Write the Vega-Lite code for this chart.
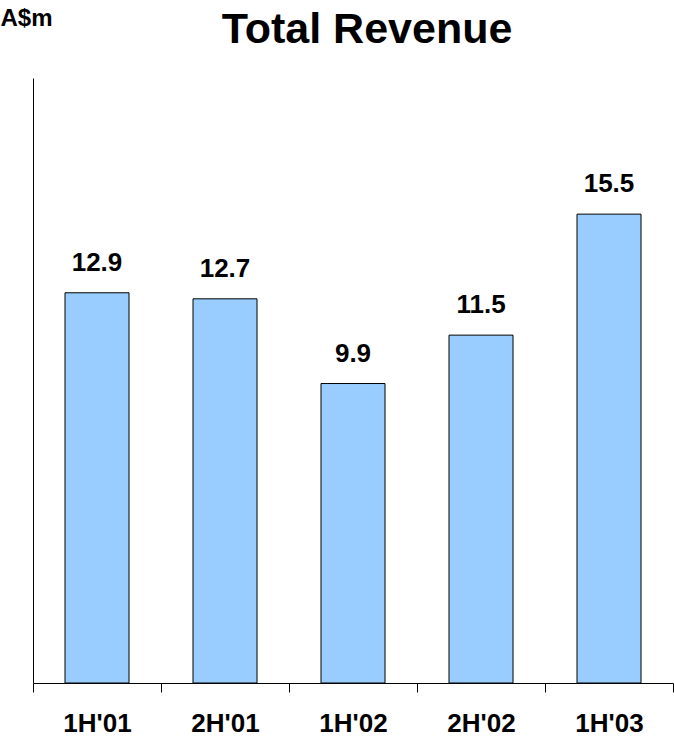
{
  "$schema": "https://vega.github.io/schema/vega-lite/v6.json",
  "width": 640,
  "height": 605,
  "autosize": {"type": "none"},
  "padding": {"left": 33, "top": 78, "right": 1, "bottom": 58},
  "background": "white",
  "title": {
    "text": "Total Revenue",
    "font": "Liberation Sans",
    "fontSize": 43,
    "fontWeight": "bold",
    "color": "black",
    "anchor": "middle",
    "dx": 14,
    "offset": -46
  },
  "config": {
    "view": {"stroke": null},
    "font": "Liberation Sans"
  },
  "data": {
    "values": [
      {"period": "1H'01", "revenue": 12.9},
      {"period": "2H'01", "revenue": 12.7},
      {"period": "1H'02", "revenue": 9.9},
      {"period": "2H'02", "revenue": 11.5},
      {"period": "1H'03", "revenue": 15.5}
    ]
  },
  "encoding": {
    "x": {
      "field": "period",
      "type": "nominal",
      "sort": null,
      "scale": {"paddingInner": 0, "paddingOuter": 0},
      "axis": {
        "title": null,
        "labelAngle": 0,
        "labelFont": "Liberation Sans",
        "labelFontSize": 26,
        "labelFontWeight": "bold",
        "labelColor": "black",
        "labelPadding": 18,
        "tickBand": "extent",
        "tickSize": 9,
        "tickColor": "black",
        "domainColor": "black",
        "domainWidth": 1,
        "grid": false
      }
    },
    "y": {
      "field": "revenue",
      "type": "quantitative",
      "scale": {"domain": [0, 20], "nice": false},
      "axis": {
        "title": "A$m",
        "titleAngle": 0,
        "titleX": -33,
        "titleY": -72,
        "titleAlign": "left",
        "titleBaseline": "top",
        "titleFont": "Liberation Sans",
        "titleFontSize": 24,
        "titleFontWeight": "bold",
        "titleColor": "black",
        "labels": false,
        "ticks": false,
        "grid": false,
        "domainColor": "black",
        "domainWidth": 1
      }
    }
  },
  "layer": [
    {
      "mark": {"type": "bar", "width": {"band": 0.5}, "fill": "#99CCFF", "stroke": "black", "strokeWidth": 1}
    },
    {
      "mark": {
        "type": "text",
        "baseline": "bottom",
        "dy": -17,
        "font": "Liberation Sans",
        "fontSize": 26,
        "fontWeight": "bold",
        "color": "black"
      },
      "encoding": {
        "text": {"field": "revenue", "type": "quantitative", "format": ".1f"}
      }
    }
  ]
}
